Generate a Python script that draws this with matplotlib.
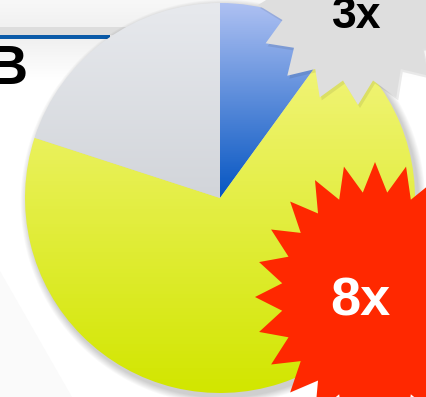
import numpy as np
import matplotlib.pyplot as plt
from matplotlib.patches import Polygon, Circle, Rectangle
from matplotlib.colors import LinearSegmentedColormap

# pie shares (percent), clockwise from 12 o'clock
labels = ['blue', 'yellow', 'gray']
shares = [10, 70, 20]
top_colors = ['#adc0f2', '#f3f580', '#e7e9ed']
bottom_colors = ['#0656c2', '#d2e600', '#d2d5da']

# starburst callouts
burst_text = ['3x', '8x']
burst_color = ['#dedede', '#ff2800']
burst_text_color = ['black', 'white']

W, H = 426, 397
fig = plt.figure(figsize=(W / 100, H / 100), dpi=100)
ax = fig.add_axes([0, 0, 1, 1])
ax.set_xlim(0, W)
ax.set_ylim(0, H)
ax.axis('off')

# slide background
grad = np.linspace(0, 1, 100).reshape(-1, 1)
ax.imshow(grad, extent=(0, W, H - 27, H), aspect='auto',
          cmap=LinearSegmentedColormap.from_list('t', ['#f8f8f8', '#f1f1f1']), zorder=0)
ax.add_patch(Rectangle((0, H - 35), W, 8, color='#dddddd', lw=0, zorder=0))
ax.imshow(grad, extent=(0, W, H - 80, H - 35), aspect='auto',
          cmap=LinearSegmentedColormap.from_list('b', ['#efefef', '#ffffff']), zorder=0)
ax.add_patch(Polygon([(0, 0), (0, 126), (72, 0)], color='#fafafa', lw=0, zorder=0))
ax.add_patch(Rectangle((0, H - 39), 110, 4, color='#0a5aa8', lw=0, zorder=1))
ax.text(-13, H - 84, 'B', fontsize=40, fontweight='bold', color='black',
        family='Liberation Sans', va='baseline', ha='left', zorder=1)

cx, cy, R = 220, H - 198, 195

# soft shadow under pie
for i in range(8):
    ax.add_patch(Circle((cx + 3, cy - 4), R + 1 + i * 0.9, color='black',
                        alpha=0.025, lw=0, zorder=2))

wedges, _ = ax.pie(shares, center=(cx, cy), radius=R, startangle=90,
                   counterclock=False, frame=True,
                   wedgeprops=dict(facecolor='none', lw=0))
ax.set_xlim(0, W)
ax.set_ylim(0, H)
ax.set_aspect('auto')
ax.axis('off')

for w, c0, c1 in zip(wedges, top_colors, bottom_colors):
    w.set_zorder(3)
    bb = w.get_path().get_extents(w.get_transform() - ax.transData)
    cmap = LinearSegmentedColormap.from_list('g', [c1, c0])
    im = ax.imshow(grad, extent=(bb.x0, bb.x1, bb.y0, bb.y1), origin='lower',
                   aspect='auto', cmap=cmap, zorder=3)
    im.set_clip_path(w)


def burst(x, y, rx, ry, n, inner, rot):
    ang = np.linspace(0, 2 * np.pi, 2 * n, endpoint=False) + np.deg2rad(rot)
    r = np.where(np.arange(2 * n) % 2 == 0, 1.0, inner)
    return np.column_stack([x + rx * r * np.cos(ang), y + ry * r * np.sin(ang)])


# gray 3x burst (top right)
pts = burst(358, H - 5, 100, 100, 16, 0.77, -90)
ax.add_patch(Polygon(pts + [2, -3], color='black', alpha=0.08, lw=0, zorder=4))
ax.add_patch(Polygon(pts, color=burst_color[0], lw=0, zorder=5))
ax.text(357, H - 28, burst_text[0], fontsize=32, fontweight='bold',
        color=burst_text_color[0], family='Liberation Sans',
        ha='center', va='baseline', zorder=6)

# red 8x burst (bottom right)
pts = burst(375, H - 297, 120, 135, 24, 0.78, 90)
ax.add_patch(Polygon(pts, color=burst_color[1], lw=0, zorder=5))
ax.text(360, H - 316, burst_text[1], fontsize=39, fontweight='bold',
        color=burst_text_color[1], family='Liberation Sans',
        ha='center', va='baseline', zorder=6)

fig.savefig('out.png', dpi=100)
